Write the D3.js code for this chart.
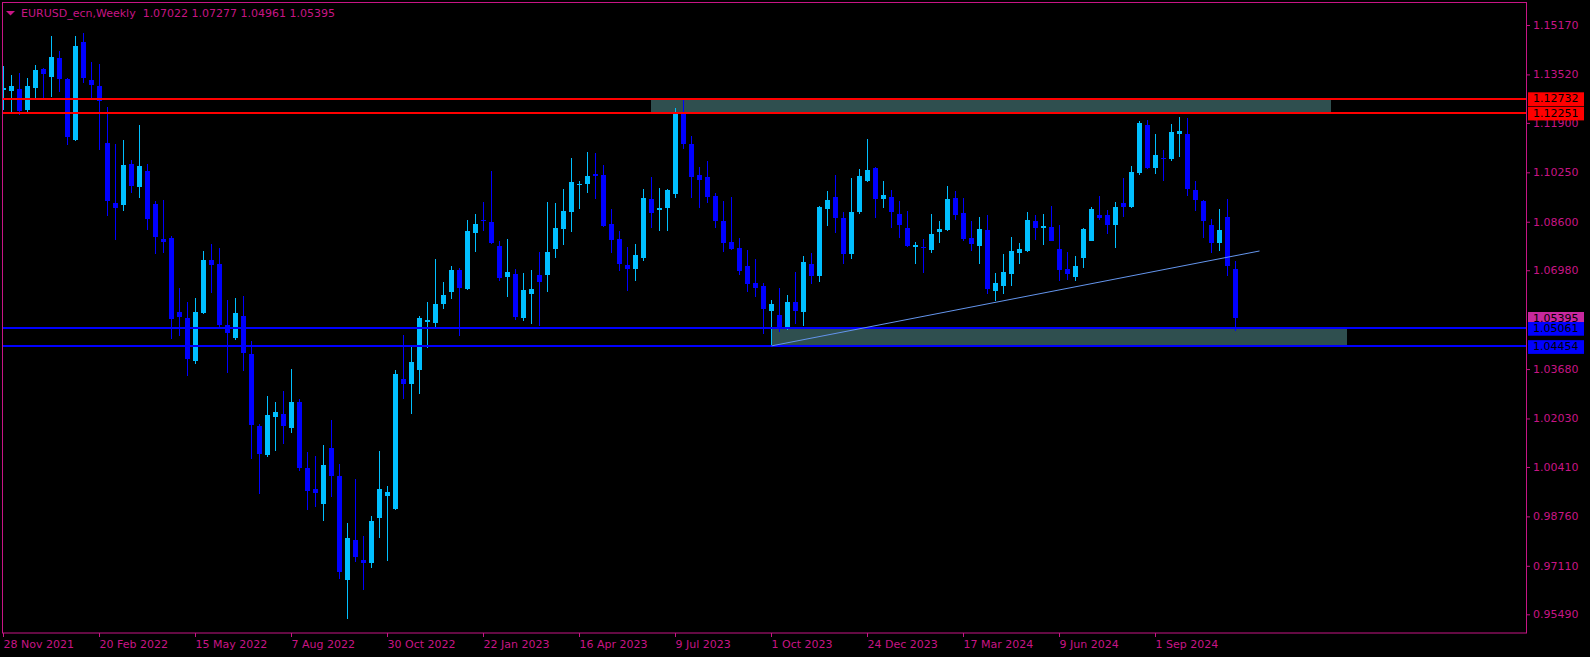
<!DOCTYPE html>
<html><head><meta charset="utf-8">
<script src="https://cdn.jsdelivr.net/npm/d3@7"></script>
<style>html,body{margin:0;padding:0;background:#000;overflow:hidden}</style>
</head><body>
<svg id="c" width="1590" height="657"></svg>
<script>
const symbolName = "EURUSD_ecn,Weekly";
const openP = [1.1300,1.1298,1.1303,1.1233,1.1307,1.1370,1.1343,1.1407,1.1337,1.1133,
1.1460,1.1333,1.1313,1.1123,1.0922,1.0916,1.1053,1.0976,1.1029,1.0919,
1.0802,1.0806,1.0558,1.0539,1.0395,1.0555,1.0732,1.0719,1.0515,1.0472,
1.0545,1.0418,1.0178,1.0081,1.0208,1.0218,1.0171,1.0258,1.0037,0.9967,
0.9917,1.0104,1.0011,0.9663,0.9797,0.9730,0.9720,0.9870,0.9944,0.9900,
1.0335,1.0318,1.0365,1.0525,1.0522,1.0585,1.0625,1.0699,1.0635,1.0822,
1.0867,1.0859,1.0779,1.0675,1.0685,1.0539,1.0619,1.0682,1.0682,1.0769,
1.0836,1.0892,1.0983,1.0986,1.1019,1.1016,1.0852,1.0802,1.0715,1.0702,
1.0739,1.0936,1.0899,1.0906,1.0953,1.1220,1.1120,1.1016,1.1009,1.0946,
1.0862,1.0792,1.0772,1.0712,1.0655,1.0645,1.0562,1.0548,1.0508,1.0592,
1.0558,1.0719,1.0679,1.0902,1.0943,1.0872,1.0752,1.0892,1.0996,1.1039,
1.0936,1.0943,1.0886,1.0839,1.0776,1.0776,1.0766,1.0826,1.0832,1.0939,
1.0889,1.0806,1.0779,1.0832,1.0629,1.0645,1.0685,1.0755,1.0762,1.0862,
1.0839,1.0842,1.0769,1.0702,1.0675,1.0739,1.0796,1.0882,1.0882,1.0849,
1.0922,1.0909,1.1023,1.1183,1.1039,1.1073,1.1069,1.1153,1.1153,1.0966,
1.0929,1.0849,1.0789,1.0876,1.07022];
const highP = [1.1380,1.1350,1.1356,1.1340,1.1383,1.1374,1.1480,1.1430,1.1341,1.1480,
1.1490,1.1393,1.1387,1.1243,1.1120,1.1133,1.1066,1.1183,1.1053,1.0929,
1.0933,1.0812,1.0639,1.0592,1.0605,1.0762,1.0786,1.0772,1.0599,1.0605,
1.0612,1.0462,1.0184,1.0278,1.0258,1.0295,1.0368,1.0268,1.0091,1.0077,
1.0114,1.0198,1.0051,0.9854,1.0001,0.9810,0.9877,1.0094,0.9977,1.0365,
1.0482,1.0442,1.0545,1.0592,1.0735,1.0659,1.0712,1.0706,1.0866,1.0886,
1.0926,1.1029,1.0796,1.0802,1.0702,1.0689,1.0699,1.0759,1.0926,1.0922,
1.0969,1.1073,1.0996,1.1093,1.1089,1.1049,1.0902,1.0829,1.0776,1.0786,
1.0969,1.1009,1.0973,1.0969,1.1240,1.1273,1.1146,1.1043,1.1063,1.0956,
1.0929,1.0943,1.0806,1.0766,1.0735,1.0655,1.0599,1.0639,1.0615,1.0692,
1.0745,1.0756,1.0912,1.0963,1.1016,1.0892,1.1006,1.1036,1.1136,1.1043,
1.0996,1.0966,1.0929,1.0896,1.0792,1.0802,1.0886,1.0862,1.0979,1.0963,
1.0939,1.0862,1.0876,1.0882,1.0689,1.0752,1.0809,1.0789,1.0892,1.0882,
1.0886,1.0912,1.0849,1.0759,1.0745,1.0839,1.0909,1.0946,1.0899,1.0926,
1.1006,1.1046,1.1196,1.1200,1.1153,1.1100,1.1186,1.1210,1.1206,1.0996,
1.0933,1.0869,1.0902,1.0936,1.07277];
const lowP = [1.1233,1.1227,1.1216,1.1226,1.1273,1.1273,1.1278,1.1294,1.1116,1.1131,
1.1324,1.1273,1.1100,1.0879,1.0799,1.0896,1.0956,1.0939,1.0832,1.0752,
1.0756,1.0468,1.0478,1.0346,1.0386,1.0552,1.0622,1.0509,1.0355,1.0465,
1.0361,1.0067,0.9951,1.0074,1.0094,1.0118,1.0154,1.0027,0.9897,0.9907,
0.9860,0.9941,0.9667,0.9533,0.9723,0.9630,0.9703,0.9804,0.9727,0.9897,
1.0268,1.0218,1.0285,1.0438,1.0508,1.0568,1.0602,1.0478,1.0632,1.0759,
1.0829,1.0786,1.0662,1.0609,1.0532,1.0528,1.0518,1.0511,1.0625,1.0739,
1.0782,1.0826,1.0902,1.0956,1.0936,1.0842,1.0756,1.0695,1.0629,1.0662,
1.0729,1.0839,1.0829,1.0829,1.0939,1.1103,1.0939,1.0906,1.0922,1.0839,
1.0759,1.0766,1.0682,1.0625,1.0609,1.0485,1.04454,1.0492,1.0498,1.0518,
1.0511,1.0652,1.0659,1.0846,1.0822,1.0719,1.0735,1.0886,1.0994,1.0872,
1.0906,1.0839,1.0806,1.0776,1.0719,1.0689,1.0756,1.0789,1.0830,1.0866,
1.0796,1.0762,1.0719,1.0619,1.0595,1.0619,1.0645,1.0719,1.0759,1.0799,
1.0782,1.0795,1.0662,1.0665,1.0662,1.0705,1.0795,1.0866,1.0819,1.0772,
1.0876,1.0906,1.1016,1.1036,1.1019,1.0996,1.1063,1.1076,1.0946,1.0896,
1.0806,1.0756,1.0762,1.0679,1.04961];
const closeP = [1.1307,1.1313,1.1230,1.1313,1.1367,1.1354,1.1410,1.1337,1.1143,1.1447,
1.1340,1.1317,1.1263,1.0929,1.0906,1.1049,1.0979,1.1046,1.0869,1.0809,
1.0792,1.0535,1.0542,1.0401,1.0558,1.0732,1.0715,1.0515,1.0488,1.0555,
1.0421,1.0181,1.0084,1.0214,1.0224,1.0178,1.0258,1.0037,0.9961,0.9954,
1.0047,1.0011,0.9690,0.9804,0.9740,0.9720,0.9860,0.9967,0.9957,1.0351,
1.0318,1.0391,1.0539,1.0532,1.0585,1.0615,1.0699,1.0639,1.0829,1.0852,
1.0863,1.0789,1.0672,1.0692,1.0542,1.0632,1.0635,1.0659,1.0759,1.0839,
1.0896,1.0993,1.0986,1.1013,1.1013,1.0846,1.0799,1.0719,1.0702,1.0749,
1.0939,1.0889,1.0906,1.0966,1.1220,1.1120,1.1009,1.0999,1.0943,1.0862,
1.0789,1.0769,1.0695,1.0652,1.0639,1.0568,1.0585,1.0505,1.0592,1.0562,
1.0725,1.0679,1.0909,1.0933,1.0872,1.0752,1.0892,1.1013,1.1033,1.0936,
1.0949,1.0892,1.0849,1.0779,1.0782,1.0772,1.0819,1.0836,1.0936,1.0882,
1.0802,1.0786,1.0836,1.0635,1.0655,1.0692,1.0762,1.0769,1.0866,1.0839,
1.0846,1.0796,1.0699,1.0685,1.0712,1.0836,1.0902,1.0872,1.0849,1.0909,
1.0909,1.1026,1.1190,1.1039,1.1083,1.1069,1.1160,1.1163,1.0969,1.0933,
1.0862,1.0789,1.0832,1.0712,1.05395];
const dateLabels = ["28 Nov 2021","20 Feb 2022","15 May 2022","7 Aug 2022","30 Oct 2022","22 Jan 2023","16 Apr 2023","9 Jul 2023","1 Oct 2023","24 Dec 2023","17 Mar 2024","9 Jun 2024","1 Sep 2024"];
const dateTickBars = [0,12,24,36,48,60,72,84,96,108,120,132,144];
const priceTicks = [1.15170,1.13520,1.11900,1.10250,1.08600,1.06980,1.03680,1.02030,1.00410,0.98760,0.97110,0.95490];
const resistanceLevels = [1.12732, 1.12251];
const supportLevels = [1.05061, 1.04454];
const resistanceBars = [81, 166];
const supportBars = [96, 168];
const trendBars = [96, 157];
const trendPrices = [1.04454, 1.07623];

const FG = "#C71585", BULL = "#00BFFF", BEAR = "#0000FF";
const FONT = "'DejaVu Sans', sans-serif";
const svg = d3.select("#c");
svg.append("rect").attr("width",1590).attr("height",657).attr("fill","#000");

const n = openP.length;
const x = d3.scaleLinear().domain([0, n-1]).range([3, 3 + 8*(n-1)]);
const y = d3.scaleLinear().domain([0.95490, 1.15170]).range([614.3, 25]);

svg.append("clipPath").attr("id","plot").append("rect").attr("x",3).attr("y",3).attr("width",1523).attr("height",630);
const plot = svg.append("g").attr("clip-path","url(#plot)").attr("shape-rendering","crispEdges");

// zones (background)
plot.append("rect").attr("x",x(resistanceBars[0])).attr("width",x(resistanceBars[1])-x(resistanceBars[0]))
  .attr("y",y(resistanceLevels[0])).attr("height",y(resistanceLevels[1])-y(resistanceLevels[0])).attr("fill","#2F4F4F");
plot.append("rect").attr("x",x(supportBars[0])).attr("width",x(supportBars[1])-x(supportBars[0]))
  .attr("y",y(supportLevels[0])).attr("height",y(supportLevels[1])-y(supportLevels[0])).attr("fill","#2F4F4F");

// candles
const idx = d3.range(n);
const col = i => closeP[i] >= openP[i] ? BULL : BEAR;
plot.selectAll("rect.w").data(idx).join("rect").attr("class","w")
  .attr("x", i => x(i)).attr("width",1)
  .attr("y", i => y(highP[i])).attr("height", i => Math.max(1, y(lowP[i]) - y(highP[i])))
  .attr("fill", col);
plot.selectAll("rect.b").data(idx).join("rect").attr("class","b")
  .attr("x", i => x(i) - 2).attr("width",5)
  .attr("y", i => y(Math.max(openP[i], closeP[i])))
  .attr("height", i => Math.max(1, Math.abs(y(openP[i]) - y(closeP[i]))))
  .attr("fill", col);

// trend line
svg.append("line").attr("x1",x(trendBars[0])+0.5).attr("y1",y(trendPrices[0]))
  .attr("x2",x(trendBars[1])+0.5).attr("y2",y(trendPrices[1]))
  .attr("stroke","#6495ED").attr("stroke-width",1);

// horizontal lines
resistanceLevels.forEach(v => plot.append("rect").attr("x",3).attr("width",1523).attr("y",Math.floor(y(v))).attr("height",2).attr("fill","#FF0000"));
supportLevels.forEach(v => plot.append("rect").attr("x",3).attr("width",1523).attr("y",Math.floor(y(v))).attr("height",2).attr("fill","#0000FF"));

// frame
svg.append("rect").attr("x",2.5).attr("y",2.5).attr("width",1524).attr("height",630.5)
  .attr("fill","none").attr("stroke",FG).attr("stroke-width",1);

// y axis
const ya = svg.append("g").attr("transform","translate(1527,0)")
  .call(d3.axisRight(y).tickValues(priceTicks).tickSize(3).tickPadding(3).tickFormat(d3.format(".5f")));
ya.select(".domain").remove();
ya.selectAll("line").attr("stroke",FG);
ya.selectAll("text").attr("fill",FG).style("font-family",FONT).style("font-size","11px");

// x axis
const xa = svg.append("g").attr("transform","translate(0,633)")
  .call(d3.axisBottom(x).tickValues(dateTickBars).tickSize(4).tickPadding(3).tickFormat((d,i) => dateLabels[i]));
xa.select(".domain").remove();
xa.selectAll("line").attr("stroke",FG);
xa.selectAll("text").attr("fill",FG).attr("text-anchor","start").attr("x",0)
  .style("font-family",FONT).style("font-size","11px");

// price boxes
function priceBox(v, color) {
  const yy = y(v);
  svg.append("rect").attr("x",1528).attr("y",yy-5.7).attr("width",56).attr("height",13.7).attr("fill",color);
  svg.append("text").attr("x",1533).attr("y",yy+4.3).text(v.toFixed(5))
    .attr("fill","#000").style("font-family",FONT).style("font-size","11px");
}
priceBox(closeP[n-1], "#C8289E");
resistanceLevels.forEach(v => priceBox(v, "#FF0000"));
supportLevels.forEach(v => priceBox(v, "#0000FF"));

// title
svg.append("path").attr("d","M6,11 L15,11 L10.5,15.5 Z").attr("fill",FG);
svg.append("text").attr("x",21).attr("y",17).attr("fill",FG).style("font-family",FONT).style("font-size","11px")
  .attr("xml:space","preserve").style("white-space","pre")
  .text(symbolName + "  " + [openP[n-1],highP[n-1],lowP[n-1],closeP[n-1]].map(v=>v.toFixed(5)).join(" "));
</script>
</body></html>
